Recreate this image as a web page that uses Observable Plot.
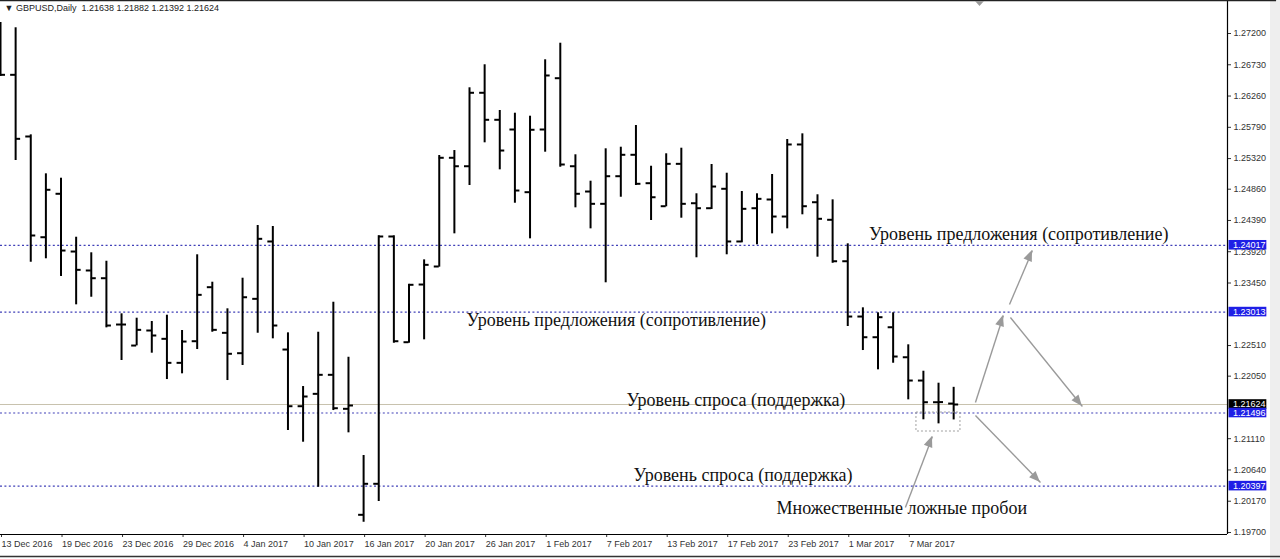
<!DOCTYPE html>
<html><head><meta charset="utf-8">
<script src="https://cdn.jsdelivr.net/npm/d3@7"></script>
<script src="https://cdn.jsdelivr.net/npm/@observablehq/plot@0.6"></script>
<style>
body{margin:0;background:#fff;}
#chart{position:relative;width:1280px;height:559px;overflow:hidden;}
</style>
</head><body><div id="chart"></div>
<script>
// ---- data ----
const symbol = "GBPUSD,Daily";
const dates = ["13 Dec 2016","14 Dec 2016","15 Dec 2016","16 Dec 2016","19 Dec 2016","20 Dec 2016","21 Dec 2016","22 Dec 2016","23 Dec 2016","26 Dec 2016","27 Dec 2016","28 Dec 2016","29 Dec 2016","30 Dec 2016",
"2 Jan 2017","3 Jan 2017","4 Jan 2017","5 Jan 2017","6 Jan 2017","9 Jan 2017","10 Jan 2017","11 Jan 2017","12 Jan 2017","13 Jan 2017","16 Jan 2017","17 Jan 2017","18 Jan 2017","19 Jan 2017","20 Jan 2017","23 Jan 2017","24 Jan 2017","25 Jan 2017","26 Jan 2017","27 Jan 2017","30 Jan 2017","31 Jan 2017",
"1 Feb 2017","2 Feb 2017","3 Feb 2017","6 Feb 2017","7 Feb 2017","8 Feb 2017","9 Feb 2017","10 Feb 2017","13 Feb 2017","14 Feb 2017","15 Feb 2017","16 Feb 2017","17 Feb 2017","20 Feb 2017","21 Feb 2017","22 Feb 2017","23 Feb 2017","24 Feb 2017","27 Feb 2017","28 Feb 2017",
"1 Mar 2017","2 Mar 2017","3 Mar 2017","6 Mar 2017","7 Mar 2017","8 Mar 2017","9 Mar 2017","10 Mar 2017"];
const open = [1.27020,1.26579,1.25652,1.24138,1.24791,1.23923,1.23638,1.23522,1.22826,1.22510,1.22736,1.22611,1.22250,1.22575,1.23387,1.22701,1.22395,1.23212,1.24074,1.22450,1.21598,1.21784,1.22070,1.21559,1.19966,1.20432,1.24149,1.22560,1.23427,1.23698,1.25332,1.25205,1.26309,1.25903,1.25757,1.24815,1.25757,1.26528,1.25205,1.24825,1.24640,1.25055,1.25377,1.24950,1.24604,1.25241,1.24649,1.24574,1.24866,1.24074,1.24574,1.24705,1.24449,1.25532,1.24664,1.24400,1.23777,1.22946,1.22635,1.22785,1.22334,1.21984,1.21658,1.21638];
const high = [1.27365,1.27286,1.25677,1.25091,1.25025,1.24138,1.23904,1.23777,1.22987,1.22921,1.22871,1.22966,1.22736,1.23874,1.23462,1.23062,1.23522,1.24314,1.24299,1.22701,1.21894,1.22710,1.23161,1.22334,1.20857,1.24160,1.24160,1.23430,1.23798,1.25366,1.25441,1.26384,1.26730,1.26043,1.26002,1.25957,1.26805,1.27054,1.25377,1.24980,1.25467,1.25491,1.25817,1.25205,1.25392,1.25476,1.24791,1.25231,1.25100,1.24825,1.24791,1.25081,1.25607,1.25692,1.24776,1.24700,1.24039,1.23077,1.23002,1.23002,1.22521,1.22124,1.21944,1.21882];
const low = [1.26554,1.25291,1.23762,1.23814,1.23548,1.23122,1.23236,1.22776,1.22285,1.22505,1.22395,1.21999,1.22085,1.22450,1.22710,1.21984,1.22210,1.22695,1.22611,1.21233,1.21057,1.20380,1.21533,1.21198,1.19854,1.20166,1.22545,1.22545,1.22596,1.23688,1.24189,1.24915,1.25557,1.25151,1.24649,1.24114,1.25416,1.25190,1.24580,1.24264,1.23453,1.24739,1.24915,1.24389,1.24595,1.24424,1.23829,1.24555,1.23874,1.24054,1.24024,1.24189,1.24264,1.24475,1.23838,1.23747,1.22796,1.22435,1.22145,1.22244,1.21694,1.21394,1.21333,1.21392];
const close = [1.26579,1.25617,1.24164,1.24851,1.23938,1.23648,1.23522,1.22811,1.22826,1.22746,1.22661,1.22250,1.22570,1.23272,1.22746,1.22386,1.23236,1.24114,1.22811,1.21598,1.21744,1.22070,1.21568,1.21609,1.20432,1.24149,1.22575,1.23423,1.23723,1.25332,1.25205,1.26309,1.25903,1.25441,1.24840,1.25753,1.26569,1.25231,1.24791,1.24640,1.25055,1.25377,1.24941,1.24739,1.25241,1.24640,1.24574,1.24900,1.24074,1.24565,1.24715,1.24449,1.25532,1.24604,1.24415,1.23777,1.22946,1.22635,1.22936,1.22345,1.21984,1.21658,1.21660,1.21624];
const levels = [1.24017, 1.23013, 1.21496, 1.20397];
const bid = 1.21624;
const yTicks = [1.27200,1.26730,1.26260,1.25790,1.25320,1.24860,1.24390,1.23920,1.23450,1.22510,1.22050,1.21110,1.20640,1.20170,1.19700];
const xTickIdx = [0,4,8,12,16,20,24,28,32,36,40,44,48,52,56,60];
const notes = [
  {t:"Уровень предложения (сопротивление)", i:57.4, p:1.24176},
  {t:"Уровень предложения (сопротивление)", i:30.8, p:1.22883},
  {t:"Уровень спроса (поддержка)", i:41.37, p:1.21681},
  {t:"Уровень спроса (поддержка)", i:41.84, p:1.20568},
  {t:"Множественные ложные пробои", i:51.29, p:1.20072}
];
const arrows = [
  {x1:64.44, y1:1.21654, x2:66.29, y2:1.22961},
  {x1:66.69, y1:1.23127, x2:68.21, y2:1.23938},
  {x1:66.75, y1:1.22931, x2:71.51, y2:1.21594},
  {x1:64.44, y1:1.21458, x2:68.74, y2:1.20451},
  {x1:59.81, y1:1.20075, x2:61.60, y2:1.21142}
];
const falseBreakBox = {x1:60.54, x2:63.45, y1:1.21218, y2:1.21503};

// ---- build ----
const bars = dates.map((d,i)=>({i, date:d, o:open[i], h:high[i], l:low[i], c:close[i]}));
const last = bars[bars.length-1];
const xMax = 81.1, yMin = 1.19670, yMax = 1.27696;
const tickW = 0.33, boxH = 0.00072;
const boxes = [{v:bid, fill:"#000"}].concat(levels.map(v=>({v, fill:"#1f1fe6"})));

const chart = Plot.plot({
  width:1280, height:559,
  marginLeft:0, marginRight:53, marginTop:0, marginBottom:25,
  style:{fontFamily:"Liberation Sans", fontSize:"9px", background:"transparent", overflow:"visible"},
  x:{type:"linear", domain:[0,xMax]},
  y:{domain:[yMin,yMax]},
  marks:[
    Plot.ruleY([bid], {stroke:"#c8c2ae", strokeWidth:1}),
    Plot.ruleY(levels, {stroke:"#4040b8", strokeWidth:1.2, strokeDasharray:"2,2.4"}),
    Plot.ruleX(bars, {x:"i", y1:"l", y2:"h", stroke:"#000", strokeWidth:2}),
    Plot.ruleY(bars, {y:"o", x1:d=>d.i-tickW, x2:"i", stroke:"#000", strokeWidth:2}),
    Plot.ruleY(bars, {y:"c", x1:"i", x2:d=>d.i+tickW, stroke:"#000", strokeWidth:2}),
    Plot.rect([falseBreakBox], {x1:"x1", x2:"x2", y1:"y1", y2:"y2", fill:"none", stroke:"#a0a0a0", strokeDasharray:"2,2"}),
    Plot.link(arrows, {x1:"x1", y1:"y1", x2:"x2", y2:"y2", stroke:"#9a9a9a", strokeWidth:1.4}),
    Plot.text(notes, {x:"i", y:"p", text:"t", textAnchor:"start", lineAnchor:"middle", fontSize:18, fontFamily:"Liberation Serif", fill:"#111"}),
    Plot.axisY(yTicks, {anchor:"right", tickFormat:d=>d.toFixed(5), tickSize:3, tickPadding:3, color:"#333", fontSize:9, label:null}),
    Plot.axisX(xTickIdx, {anchor:"bottom", tickFormat:i=>dates[i], tickSize:3, tickPadding:3, textAnchor:"start", dx:1, color:"#333", fontSize:9, label:null}),
    Plot.ruleX([xMax], {stroke:"#000", strokeWidth:1.2}),
    Plot.ruleY([yMin], {x1:0, x2:xMax, stroke:"#000", strokeWidth:1.2}),
    Plot.ruleY([yMax], {x1:0, x2:xMax*1.04, stroke:"#222", strokeWidth:1.5}),
    Plot.rect(boxes, {x1:81.2, x2:83.7, y1:d=>d.v-boxH, y2:d=>d.v+boxH, fill:"fill"}),
    Plot.text(boxes, {x:81.2, y:"v", text:d=>d.v.toFixed(5), fill:"#fff", textAnchor:"start", dx:4, fontSize:9}),
    Plot.text([`\u25BC ${symbol}\u00a0\u00a0${last.o.toFixed(5)} ${last.h.toFixed(5)} ${last.l.toFixed(5)} ${last.c.toFixed(5)}`], {frameAnchor:"top-left", dx:4, dy:4, lineAnchor:"top", textAnchor:"start", fontSize:9, fill:"#222"})
  ]
});

// arrowheads drawn through the plot's own scales
const sx = chart.scale("x"), sy = chart.scale("y");
const g = d3.select(chart).append("g");
for (const a of arrows) {
  const x1 = sx.apply(a.x1), y1 = sy.apply(a.y1), x2 = sx.apply(a.x2), y2 = sy.apply(a.y2);
  const ang = Math.atan2(y2-y1, x2-x1), L = 11, W = 4.5;
  const bx = x2 - L*Math.cos(ang), by = y2 - L*Math.sin(ang);
  g.append("polygon")
    .attr("points", [[x2,y2],[bx+W*Math.sin(ang), by-W*Math.cos(ang)],[bx-W*Math.sin(ang), by+W*Math.cos(ang)]].map(p=>p.join(",")).join(" "))
    .attr("fill", "#9a9a9a");
}
// window decorations
g.append("polygon").attr("points","975,1 984,1 979.5,6").attr("fill","#9a9a9a");
g.append("line").attr("x1",0).attr("x2",1280).attr("y1",556.5).attr("y2",556.5).attr("stroke","#333").attr("stroke-width",1.5);
d3.select(chart).insert("rect", ":first-child").attr("x",1270).attr("y",0).attr("width",10).attr("height",559).attr("fill","#eeeeee");

document.getElementById("chart").appendChild(chart);
</script>
</body></html>
